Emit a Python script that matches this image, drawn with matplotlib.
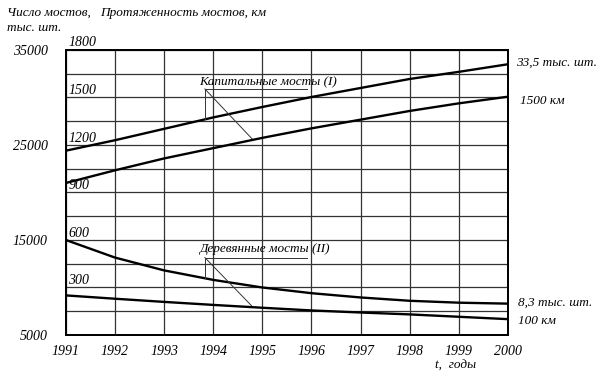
import numpy as np
import matplotlib.pyplot as plt

# data
years = np.arange(1991, 2001)
cap_count = [24400, 25500, 26700, 27900, 29000, 30050, 31000, 31950, 32700, 33500]   # шт.
cap_km = [960, 1040, 1115, 1180, 1245, 1305, 1360, 1415, 1463, 1505]
wood_count = [15000, 13150, 11800, 10800, 10000, 9400, 8950, 8600, 8400, 8300]
wood_km = [250, 229, 209, 190, 172, 155, 142, 130, 115, 100]

count_ticks = [5000, 15000, 25000, 35000]
km_ticks = [300, 600, 900, 1200, 1500]

plt.rcParams['font.family'] = ['Liberation Serif', 'DejaVu Serif']
plt.rcParams['font.style'] = 'italic'
plt.rcParams['font.size'] = 10

fig = plt.figure(figsize=(6.04, 3.75), dpi=100)
ax = fig.add_axes([0.109, 0.1067, 0.732, 0.76])
ax2 = ax.twinx()

ax.set_xlim(1991, 2000)
ax.set_ylim(5000, 35000)
ax2.set_ylim(0, 1800)

# grid
grid_y = np.arange(5000, 35001, 2500)
ax.set_xticks(years)
ax.set_yticks(grid_y)
ax.set_yticklabels([str(v) if v in count_ticks else '' for v in grid_y])
ax.grid(True, color='#333333', lw=0.9)
ax.tick_params(length=0, pad=13, labelsize=10)
ax.tick_params(axis='x', pad=7)
ax2.set_yticks([])
for sp in list(ax.spines.values()) + list(ax2.spines.values()):
    sp.set_linewidth(1.3)
    sp.set_color('black')

# curves
ax.plot(years, cap_count, color='black', lw=1.7)
ax.plot(years, wood_count, color='black', lw=1.7)
ax2.plot(years, cap_km, color='black', lw=1.7)
ax2.plot(years, wood_km, color='black', lw=1.7)

# km scale labels, inside the frame
for v in km_ticks:
    ax2.text(1991.05, v, str(v), ha='left', va='bottom', fontsize=10)
ax2.text(1991.05, 1800 * 1.005, '1800', ha='left', va='bottom', fontsize=10,
         clip_on=False)

# end labels
ax.annotate('33,5 тыс. шт.', xy=(years[-1], cap_count[-1]), xytext=(6, 1),
            textcoords='offset points', va='center', fontsize=9.5, annotation_clip=False)
ax2.annotate('1500 км', xy=(years[-1], cap_km[-1]), xytext=(9, -3),
             textcoords='offset points', va='center', fontsize=9.5, annotation_clip=False)
ax.annotate('8,3 тыс. шт.', xy=(years[-1], wood_count[-1]), xytext=(7, 1),
            textcoords='offset points', va='center', fontsize=9.5, annotation_clip=False)
ax2.annotate('100 км', xy=(years[-1], wood_km[-1]), xytext=(7, -1),
             textcoords='offset points', va='center', fontsize=9.5, annotation_clip=False)


def callout(text, x0, y_text, y_under, x_end, x_diag, upper, lower):
    # label text with underline and a forked leader to two curves
    ax.text(x0 - 0.12, y_text, text, ha='left', va='center', fontsize=9.5)
    y_up = np.interp(x0, years, upper)
    y_low = np.interp(x_diag, years, lower) * 30000 / 1800 + 5000
    ax.plot([x_end, x0, x0], [y_under, y_under, y_up], color='#333333', lw=0.7)
    ax.plot([x0, x_diag], [y_under, y_low], color='#333333', lw=0.7)


callout('Капитальные мосты (I)', 1993.83, 31650, 30900, 1995.9, 1994.81,
        cap_count, cap_km)
callout('Деревянные мосты (II)', 1993.83, 14000, 13150, 1995.9, 1994.81,
        wood_count, wood_km)

# axis titles
fig.text(0.012, 0.965, 'Число мостов,', ha='left', va='center', fontsize=9.5)
fig.text(0.012, 0.925, 'тыс. шт.', ha='left', va='center', fontsize=9.5)
fig.text(0.166, 0.965, 'Протяженность мостов, км', ha='left', va='center', fontsize=9.5)
fig.text(0.72, 0.025, 't,  годы', ha='left', va='center', fontsize=9.5)

fig.savefig('out.png', dpi=100)
